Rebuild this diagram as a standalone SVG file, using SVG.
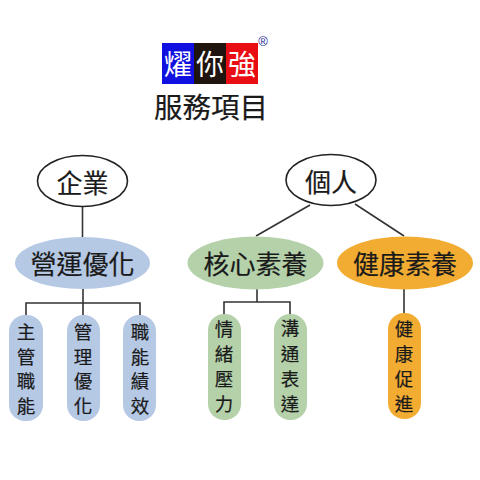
<svg xmlns="http://www.w3.org/2000/svg" width="480" height="480" viewBox="0 0 480 480">
<style>
text{font-family:"Noto Sans CJK TC","Noto Sans CJK SC",sans-serif;fill:#1a1a1a;text-anchor:middle;dominant-baseline:central;stroke:#1a1a1a;stroke-width:.2}
.big{font-size:26px}
.v{font-size:18.500px}
.logo{font-size:28px;fill:#fff;stroke:none}
.top{fill:#fff;stroke:#222;stroke-width:1.6}
.blue{fill:#b5c8e4}.green{fill:#b4d1aa}.orange{fill:#f2ac32}
.con{fill:none;stroke:#333;stroke-width:1.6}
</style>
<rect width="480" height="480" fill="#fff"/>
<g id="logo">
<rect x="162" y="43" width="32" height="41" fill="#1010e0"/>
<rect x="194" y="43" width="32" height="41" fill="#20140f"/>
<rect x="226" y="43" width="32" height="41" fill="#e80e14"/>
<text class="logo" x="178" y="63">燿</text>
<text class="logo" x="210" y="63">你</text>
<text class="logo" x="242" y="63">強</text>
<text x="263" y="41" style="font-size:13px;fill:#1a2a9a;stroke:none;font-family:'Liberation Sans',sans-serif">®</text>
</g>
<text id="title" x="211" y="105" style="font-size:28.500px">服務項目</text>
<g id="connectors" class="con">
<path d="M82.500 207V237"/>
<path d="M83 289V303M26 315V303H140V315M83 303V315"/>
<path d="M310 205L256 236"/>
<path d="M355 204L404 236"/>
<path d="M257 289V302M224 315V302H290V315"/>
<path d="M404 289V313"/>
</g>
<g id="n-qiye"><ellipse class="top" cx="82.500" cy="181" rx="45" ry="25.500"/><text class="big" x="82.500" y="181">企業</text></g>
<g id="n-geren"><ellipse class="top" cx="331" cy="180" rx="45" ry="25.500"/><text class="big" x="331" y="180">個人</text></g>
<g id="n-yunying"><ellipse class="blue" cx="82.500" cy="263" rx="67.500" ry="26"/><text class="big" x="82.500" y="262">營運優化</text></g>
<g id="n-hexin"><ellipse class="green" cx="255.500" cy="263" rx="68" ry="26.500"/><text class="big" x="255.500" y="262">核心素養</text></g>
<g id="n-jiankang"><ellipse class="orange" cx="405" cy="263" rx="68" ry="26.500"/><text class="big" x="405" y="262">健康素養</text></g>
<g id="p1"><rect class="blue" x="9" y="315" width="34" height="106" rx="16"/><text class="v" x="26" y="331">主</text><text class="v" x="26" y="355.500">管</text><text class="v" x="26" y="380">職</text><text class="v" x="26" y="404.500">能</text></g>
<g id="p2"><rect class="blue" x="67" y="315" width="33" height="106" rx="16"/><text class="v" x="83" y="331">管</text><text class="v" x="83" y="355.500">理</text><text class="v" x="83" y="380">優</text><text class="v" x="83" y="404.500">化</text></g>
<g id="p3"><rect class="blue" x="123" y="315" width="33" height="106" rx="16"/><text class="v" x="140" y="331">職</text><text class="v" x="140" y="355.500">能</text><text class="v" x="140" y="380">績</text><text class="v" x="140" y="404.500">效</text></g>
<g id="p4"><rect class="green" x="208" y="314" width="33" height="106" rx="16"/><text class="v" x="224" y="328">情</text><text class="v" x="224" y="353">緒</text><text class="v" x="224" y="378">壓</text><text class="v" x="224" y="403">力</text></g>
<g id="p5"><rect class="green" x="274" y="314" width="33" height="106" rx="16"/><text class="v" x="290" y="327">溝</text><text class="v" x="290" y="353">通</text><text class="v" x="290" y="378">表</text><text class="v" x="290" y="403">達</text></g>
<g id="p6"><rect class="orange" x="388" y="313" width="33" height="106" rx="16"/><text class="v" x="404" y="328">健</text><text class="v" x="404" y="353">康</text><text class="v" x="404" y="378">促</text><text class="v" x="404" y="403">進</text></g>
</svg>
